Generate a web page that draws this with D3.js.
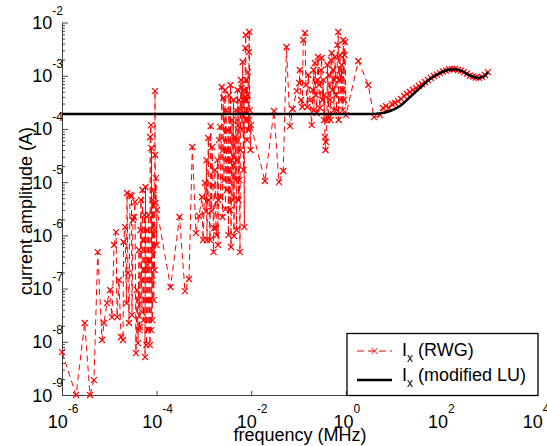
<!DOCTYPE html>
<html>
<head>
<meta charset="utf-8">
<script src="https://cdn.jsdelivr.net/npm/d3@7"></script>
<style>
  body { margin: 0; background: #fff; }
  svg text { font-family: "Liberation Sans", Arial, sans-serif; fill: #000; }
</style>
</head>
<body>
<div id="app"></div>
<script>
'use strict'

// I_x (RWG): frequency in MHz, current in A (sorted by frequency when drawn)
const rwgFreq = [
  1.0e-6, 1.98e-6, 3.02e-6, 3.91e-6, 4.74e-6, 5.69e-6, 7.02e-6, 7.73e-6, 8.93e-6, 1.04e-5,
  1.14e-5, 1.26e-5, 1.39e-5, 1.46e-5, 1.60e-5, 1.77e-5, 1.95e-5, 2.0e-5, 2.15e-5, 2.31e-5,
  2.37e-5, 2.48e-5, 2.61e-5, 2.74e-5, 2.94e-5, 3.02e-5, 3.17e-5, 3.33e-5, 3.49e-5, 3.66e-5,
  3.86e-5, 4.05e-5, 4.25e-5, 4.46e-5, 4.68e-5, 4.91e-5, 5.15e-5, 5.41e-5, 5.69e-5, 5.82e-5,
  5.97e-5, 6.27e-5, 6.58e-5, 6.75e-5, 6.9e-5, 7.24e-5, 7.3e-5, 7.6e-5, 7.8e-5, 8.0e-5,
  8.2e-5, 8.39e-5, 8.6e-5, 8.81e-5, 9.25e-5, 9.3e-5, 9.5e-5, 9.7e-5, 9.9e-5, 1.02e-4,
  1.97e-4, 3.05e-4, 3.98e-4, 4.84e-4, 5.69e-4, 6.81e-4, 7.87e-4, 9.12e-4, 9.57e-4, 1.05e-3,
  1.11e-3, 1.16e-3, 1.24e-3, 1.28e-3, 1.39e-3, 1.45e-3, 1.5e-3, 1.56e-3, 1.63e-3, 1.71e-3,
  1.8e-3, 1.86e-3, 1.94e-3, 2.03e-3, 2.08e-3, 2.19e-3, 2.24e-3, 2.38e-3, 2.47e-3, 2.57e-3,
  2.66e-3, 2.79e-3, 2.86e-3, 3.0e-3, 3.08e-3, 3.23e-3, 3.39e-3, 3.47e-3, 3.56e-3, 3.74e-3,
  3.83e-3, 3.93e-3, 4.12e-3, 4.33e-3, 4.43e-3, 4.54e-3, 4.65e-3, 4.76e-3, 5.01e-3, 5.13e-3,
  5.26e-3, 5.39e-3, 5.52e-3, 5.79e-3, 5.87e-3, 6.08e-3, 6.3e-3, 6.38e-3, 6.6e-3, 6.7e-3,
  6.86e-3, 7.15e-3, 7.2e-3, 7.4e-3, 7.55e-3, 7.65e-3, 7.76e-3, 7.95e-3, 8.15e-3, 8.35e-3,
  8.55e-3, 8.75e-3, 8.97e-3, 9.1e-3, 9.3e-3, 9.66e-3, 9.9e-3, 1.95e-2, 3.03e-2, 3.86e-2,
  4.76e-2, 5.57e-2, 6.61e-2, 7.53e-2, 9.16e-2, 0.104, 0.107, 0.12, 0.126, 0.137,
  0.153, 0.161, 0.175, 0.19, 0.2, 0.212, 0.223, 0.234, 0.242, 0.258,
  0.271, 0.284, 0.299, 0.31, 0.321, 0.334, 0.346, 0.363, 0.372, 0.381,
  0.4, 0.41, 0.427, 0.441, 0.463, 0.486, 0.503, 0.522, 0.54, 0.562,
  0.59, 0.619, 0.64, 0.667, 0.693, 0.718, 0.753, 0.791, 0.817, 0.851,
  0.885, 0.914, 0.936, 0.962, 1.01, 1.84, 2.99, 3.94, 5.28, 6.11,
  7.06, 8.18, 9.46, 11.0, 12.7, 14.7, 17.0, 19.6, 22.8, 26.3,
  30.4, 35.2, 40.7, 47.2, 54.6, 63.1, 73.1, 84.5, 98, 113,
  131, 152, 176, 203, 235, 272, 315, 365, 423, 489,
  565, 653, 757, 875, 1010,
  4.14e-5, 4.35e-5, 4.57e-5, 4.8e-5, 5.04e-5, 5.28e-5, 5.55e-5, 6.11e-5, 6.41e-5, 7.08e-5,
  7.69e-5, 8.1e-5, 8.7e-5, 9.0e-5,
  1.13e-3, 1.35e-3, 1.6e-3, 1.99e-3, 2.54e-3, 2.93e-3, 3.3e-3, 3.65e-3, 4.22e-3, 4.9e-3,
  5.65e-3, 6.15e-3, 7.0e-3, 8.05e-3, 8.9e-3,
  0.113, 0.144, 0.207, 0.25, 0.352, 0.475, 0.575, 0.705, 0.772, 0.865
]
const rwgCurrent = [
  6.4e-9, 1.0e-9, 2.25e-8, 1.0e-9, 1.9e-9, 4.85e-7, 1.08e-8, 2.25e-8, 5.33e-8, 9.4e-8,
  2.91e-8, 6.58e-7, 1.15e-6, 2.91e-8, 1.45e-7, 1.23e-8, 1.08e-8, 7.5e-7, 1.43e-6, 5.33e-8,
  6.24e-6, 1.95e-7, 2.25e-8, 5.73e-6, 5.48e-6, 3.18e-8, 1.94e-6, 2.21e-6, 4.23e-6, 6.14e-9,
  9.4e-8, 9.46e-9, 5.3e-7, 1.89e-8, 4.61e-6, 3.61e-8, 8.17e-7, 2.23e-7, 5.15e-9, 8.09e-6,
  6.08e-8, 1.26e-6, 1.66e-8, 2.41e-6, 3.44e-7, 8.67e-9, 7.05e-5, 1.18e-4, 4.38e-5, 1.45e-7,
  4.61e-6, 5.3e-7, 7.11e-6, 1.26e-6, 5.15e-4, 3.23e-5, 4.05e-6, 1.19e-5, 6.58e-7, 2.99e-6,
  1.07e-7, 2.21e-6, 8.97e-8, 1.51e-7, 4.57e-5, 1.1e-6, 2.31e-6, 5.25e-6, 8.17e-7, 9.62e-6,
  2.86e-6, 8.17e-7, 6.75e-5, 4.61e-6, 1.13e-4, 2.86e-6, 4.57e-5, 8.81e-6, 1.37e-6, 1.69e-5,
  1.37e-6, 1.01e-6, 2.6e-5, 4.61e-6, 6.18e-5, 1.09e-4, 5.25e-6, 6.14e-4, 2.21e-6, 3.81e-4,
  1.09e-5, 5.38e-4, 3.12e-6, 4.01e-5, 7.11e-6, 9.53e-5, 4.34e-4, 1.69e-5, 2.99e-6, 6.03e-7,
  2.6e-5, 1.47e-4, 4.61e-6, 9.7e-7, 6.18e-5, 7.05e-5, 1.09e-5, 2.26e-4, 2.6e-5, 5.38e-4,
  1.18e-4, 4.61e-6, 3.49e-4, 4.85e-7, 4.01e-5, 8.3e-4, 5.87e-4, 9.53e-5, 1.81e-3, 1.82e-4,
  1.69e-5, 1.43e-6, 3.49e-4, 3.98e-4, 3.32e-3, 5.82e-3, 1.47e-4, 8.3e-4, 6.18e-5, 4.34e-4,
  1.17e-3, 9.53e-5, 2.79e-3, 6.63e-3, 2.26e-4, 4.01e-5, 1.18e-4, 1.05e-5, 2.17e-4, 1.0e-5,
  1.62e-5, 3.46e-3, 1.13e-4, 2.37e-4, 5.15e-4, 7.29e-4, 1.28e-3, 2.58e-4, 4.69e-3, 6.35e-3,
  2.58e-4, 1.03e-3, 3.49e-4, 1.18e-4, 5.38e-4, 2.26e-4, 1.73e-3, 4.34e-4, 1.99e-4, 2.25e-3,
  6.68e-4, 2.47e-4, 1.28e-3, 2.15e-3, 3.49e-4, 8.3e-4, 1.47e-4, 7.05e-5, 4.01e-5, 5.68e-5,
  1.47e-4, 1.59e-3, 1.6e-4, 1.03e-3, 3.49e-4, 1.97e-3, 2.67e-3, 5.38e-4, 1.28e-3, 2.26e-4,
  2.25e-3, 4.34e-4, 2.26e-4, 3.78e-3, 6.63e-3, 8.3e-4, 2.45e-3, 3.49e-4, 1.59e-3, 5.38e-4,
  4.69e-3, 3.49e-4, 2.45e-3, 4.3e-3, 1.82e-4, 1.89e-3, 6.68e-4, 1.67e-4, 1.82e-4, 2.47e-4,
  2.69e-4, 2.47e-4, 2.94e-4, 3.07e-4, 3.34e-4, 3.65e-4, 4.15e-4, 4.53e-4, 4.94e-4, 5.38e-4,
  5.87e-4, 6.4e-4, 6.98e-4, 7.62e-4, 8.3e-4, 9.06e-4, 9.87e-4, 1.05e-3, 1.12e-3, 1.2e-3,
  1.25e-3, 1.31e-3, 1.34e-3, 1.34e-3, 1.28e-3, 1.25e-3, 1.17e-3, 1.1e-3, 1.0e-3, 9.66e-4,
  9.25e-4, 9.1e-4, 9.5e-4, 1.03e-3, 1.17e-3,
  6.08e-8, 1.66e-8, 1.26e-6, 1.45e-7, 7.11e-6, 2.56e-8, 2.41e-6, 8.67e-9, 2.77e-7, 6.08e-8,
  1.66e-8, 2.56e-8, 6.08e-8, 2.23e-7,
  2.6e-5, 8.17e-7, 4.85e-7, 6.58e-7, 4.01e-5, 2.26e-4, 1.01e-6, 6.68e-4, 3.49e-4, 1.26e-6,
  1.09e-5, 2.26e-4, 5.38e-4, 3.49e-4, 1.47e-4,
  3.49e-4, 6.68e-4, 1.28e-3, 8.3e-4, 4.34e-4, 1.47e-4, 8.3e-4, 1.47e-4, 1.03e-3, 2.26e-4
]

// I_x (modified LU)
const luFreq = [1e-6, 3.25, 5.3, 8.6, 14, 22.8, 37, 60, 98, 160, 214, 286, 423, 624, 796, 1014]
const luCurrent = [1.9e-4, 1.9e-4, 1.96e-4, 2.17e-4, 2.69e-4, 3.98e-4, 5.9e-4, 8.7e-4, 1.12e-3,
  1.31e-3, 1.31e-3, 1.22e-3, 1.0e-3, 9.1e-4, 9.5e-4, 1.17e-3]

const xTickExps = [-6, -4, -2, 0, 2, 4]
const yTickExps = [-9, -8, -7, -6, -5, -4, -3, -2]
const legendLabels = ['(RWG)', '(modified LU)']

const width = 547
const height = 446
const margin = { top: 22.5, right: 12, bottom: 51, left: 62 }

const svg = d3.select('#app').append('svg')
  .attr('width', width)
  .attr('height', height)
  .style('background-color', '#fff')

const xScale = d3.scaleLog()
  .domain([1e-6, 1e4])
  .range([margin.left, width - margin.right])

const yScale = d3.scaleLog()
  .domain([1e-9, 1e-2])
  .range([height - margin.bottom, margin.top])

/*
 * Axes: left and bottom only, ticks pointing in
 */
const yMajor = yTickExps.map(e => Math.pow(10, e))
const yMinor = yScale.ticks().filter(v => !yMajor.some(m => Math.abs(m - v) / m < 1e-6))

svg.append('g')
  .attr('transform', `translate(${margin.left},0)`)
  .call(d3.axisLeft(yScale).tickValues(yMinor).tickSize(-3).tickSizeOuter(0).tickFormat(''))
svg.append('g')
  .attr('transform', `translate(${margin.left},0)`)
  .call(d3.axisLeft(yScale).tickValues(yMajor).tickSize(-6).tickSizeOuter(0).tickFormat(''))

svg.append('g')
  .attr('transform', `translate(0,${height - margin.bottom})`)
  .call(d3.axisBottom(xScale).tickValues(xTickExps.map(e => Math.pow(10, e))).tickSize(-4).tickSizeOuter(0).tickFormat(''))

svg.selectAll('.domain, .tick line').attr('stroke', '#404040').attr('stroke-width', 1)

// tick labels 10^n
const yLabels = svg.append('g').selectAll('text')
  .data(yTickExps)
  .join('text')
  .attr('x', margin.left + 1)
  .attr('y', d => yScale(Math.pow(10, d)) + 6.5)
  .attr('text-anchor', 'end')
  .style('font-size', '18px')
yLabels.append('tspan').text('10')
yLabels.append('tspan').attr('dy', -14.2).style('font-size', '12px').text(d => String(d))

const xLabels = svg.append('g').selectAll('text')
  .data(xTickExps)
  .join('text')
  .attr('x', d => xScale(Math.pow(10, d)) + 1)
  .attr('y', 428)
  .attr('text-anchor', 'middle')
  .style('font-size', '18px')
xLabels.append('tspan').text('10')
xLabels.append('tspan').attr('dy', -15).style('font-size', '12px').text(d => String(d))

// axis titles
svg.append('text')
  .attr('x', 300)
  .attr('y', 441)
  .attr('text-anchor', 'middle')
  .style('font-size', '18px')
  .text('frequency (MHz)')

svg.append('text')
  .attr('transform', 'translate(32,211) rotate(-90)')
  .attr('text-anchor', 'middle')
  .style('font-size', '18px')
  .text('current amplitude (A)')

/*
 * RWG series: red dashed line with x markers
 */
const rwg = rwgFreq.map((f, i) => [f, rwgCurrent[i]]).sort((a, b) => a[0] - b[0])
const lu = luFreq.map((f, i) => [f, luCurrent[i]])

const line = d3.line()
  .x(d => xScale(d[0]))
  .y(d => yScale(d[1]))

svg.append('path')
  .datum(rwg)
  .attr('fill', 'none')
  .attr('stroke', '#ff0000')
  .attr('stroke-width', 1)
  .attr('stroke-dasharray', '6,4')
  .attr('d', line)

const cross = 'M-3,-3L3,3M-3,3L3,-3'
svg.append('g').selectAll('path')
  .data(rwg)
  .join('path')
  .attr('transform', d => `translate(${xScale(d[0])},${yScale(d[1])})`)
  .attr('d', cross)
  .attr('stroke', '#ff0000')
  .attr('stroke-width', 1.2)
  .attr('fill', 'none')

// modified LU series: solid black
svg.append('path')
  .datum(lu)
  .attr('fill', 'none')
  .attr('stroke', '#000')
  .attr('stroke-width', 2.5)
  .attr('d', line.curve(d3.curveMonotoneX))

/*
 * Legend
 */
const legend = svg.append('g')
legend.append('rect')
  .attr('x', 347).attr('y', 333.5)
  .attr('width', 191).attr('height', 62)
  .attr('fill', '#fff')
  .attr('stroke', '#000')
  .attr('stroke-width', 1.3)

legend.append('line')
  .attr('x1', 357).attr('x2', 392).attr('y1', 351).attr('y2', 351)
  .attr('stroke', '#ff0000').attr('stroke-width', 1).attr('stroke-dasharray', '7,4')
legend.append('path')
  .attr('transform', 'translate(374.5,351)')
  .attr('d', cross)
  .attr('stroke', '#ff0000').attr('fill', 'none')
legend.append('line')
  .attr('x1', 357).attr('x2', 392).attr('y1', 380).attr('y2', 380)
  .attr('stroke', '#000').attr('stroke-width', 2.5)

legendLabels.forEach((label, i) => {
  const t = legend.append('text')
    .attr('x', 402)
    .attr('y', 356 + i * 25)
    .style('font-size', '18px')
  t.append('tspan').text('I')
  t.append('tspan').attr('x', 407).attr('dy', 5.5).style('font-size', '12px').text('x')
  t.append('tspan').attr('x', 418).attr('dy', -5.5).text(label)
})
</script>
</body>
</html>
